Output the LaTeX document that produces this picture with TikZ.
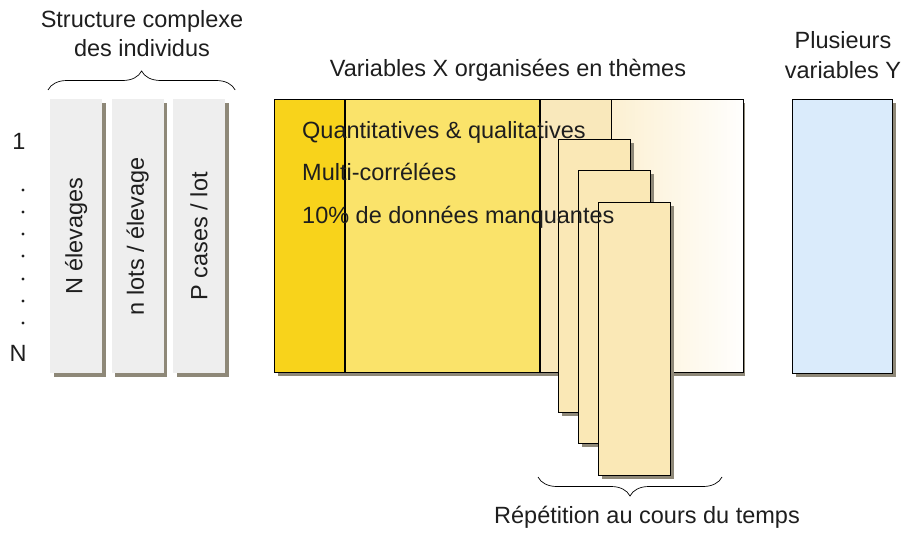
\documentclass[tikz,border=0pt]{standalone}
\usepackage{fontspec}
\setmainfont{Liberation Sans}
\usepackage{tikz}
\usetikzlibrary{positioning,shadows,decorations.pathreplacing}

\definecolor{textgray}{HTML}{1E1E1E}
\definecolor{shadowgray}{HTML}{8E8878}
\definecolor{boxgray}{HTML}{EEEEEE}
\definecolor{themeA}{HTML}{F8D31B}
\definecolor{themeB}{HTML}{FAE36A}
\definecolor{themeC}{HTML}{F9E8BB}
\definecolor{themeD}{HTML}{FCF0D2}
\definecolor{cardfill}{HTML}{FAE8B6}
\definecolor{yfill}{HTML}{DAEBFB}

\begin{document}
\begin{tikzpicture}[x=1pt, y=-1pt,
  every node/.style={font=\fontsize{23.5}{29}\selectfont, text=textgray},
  withshadow/.style={drop shadow={shadow xshift=3.5pt, shadow yshift=-3.5pt, fill=shadowgray, opacity=1}},
  lotbox/.style={fill=boxgray, inner sep=0pt, anchor=north west, minimum width=52pt, minimum height=274pt, withshadow},
  themecol/.style={draw=black, line width=0.8pt, inner sep=0pt, anchor=north west, minimum height=273pt},
  card/.style={draw=black, line width=0.8pt, fill=cardfill, inner sep=0pt, anchor=north west, minimum width=72pt, minimum height=273pt, withshadow},
  bracket/.style={decorate, decoration={brace, amplitude=19pt}, line width=0.7pt}]
\useasboundingbox (0,0) rectangle (911,535);

% structure des individus
\node (struct) [align=center, anchor=base] at (142,57) {Structure complexe\\des individus};
\node (elev) [lotbox] at (50,99) {};
\node (lots) [lotbox, right=9pt of elev] {};
\node (cases) [lotbox, right=9pt of lots] {};
\node [rotate=90] at (elev.center) {N élevages};
\node [rotate=90] at (lots.center) {n lots / élevage};
\node [rotate=90] at (cases.center) {P cases / lot};
\draw[bracket] ([xshift=-2pt, yshift=9pt]elev.north west) -- ([xshift=10pt, yshift=9pt]cases.north east);

\node (first) at (19,141) {1};
\node (last) at (18,353) {N};
\foreach \i/\y in {1/190,2/212,3/234,4/256,5/279,6/301,7/323}
  \node (dot\i) [circle, fill=textgray, inner sep=1.1pt] at (23,\y) {};

% variables X
\node (titleX) [anchor=base] at (508,77) {Variables X organisées en thèmes};
\node (xblock) [themecol, minimum width=467pt, withshadow] at (274,99) {};
\node (colA) [themecol, fill=themeA, minimum width=70pt] at (274,99) {};
\node (colB) [themecol, fill=themeB, minimum width=194pt] at (colA.north east) {};
\node (colC) [themecol, fill=themeC, minimum width=71pt] at (colB.north east) {};
\node (colD) [themecol, left color=themeD, right color=white!96!themeD, minimum width=132pt] at (colC.north east) {};

\foreach \i/\x/\y in {1/558/139, 2/578/170, 3/598/202}
  \node (card\i) [card] at (\x,\y) {};

\node (quanti) [anchor=base west, inner sep=0pt] at (302,139) {Quantitatives \& qualitatives};
\node (multi) [anchor=base west, inner sep=0pt] at (302,180) {Multi-corrélées};
\node (manq) [anchor=base west, inner sep=0pt] at (302,223) {10\% de données manquantes};

\coordinate (repL) at (538,477);
\coordinate (repR) at (722,477);
\draw[bracket] (repR) -- (repL);
\node (repet) [anchor=base] at (647,523) {Répétition au cours du temps};

% variables Y
\node (titleY) [align=center, anchor=base] at (843,78) {Plusieurs\\variables Y};
\node (yblock) [themecol, fill=yfill, minimum width=100pt, minimum height=274pt, withshadow] at (792,99) {};
\end{tikzpicture}
\end{document}
